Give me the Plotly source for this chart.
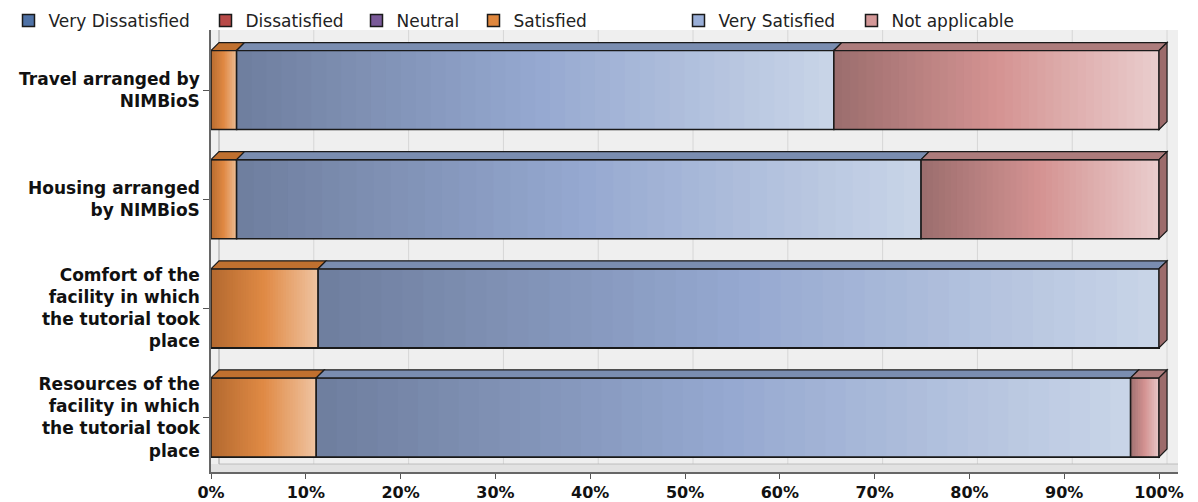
import plotly.graph_objects as go

categories = ["Travel arranged by<br>NIMBioS",
              "Housing arranged<br>by NIMBioS",
              "Comfort of the<br>facility in which<br>the tutorial took<br>place",
              "Resources of the<br>facility in which<br>the tutorial took<br>place"]
series_names = ["Very Dissatisfied", "Dissatisfied", "Neutral", "Satisfied",
                "Very Satisfied", "Not applicable"]
very_dissatisfied = [0, 0, 0, 0]
dissatisfied = [0, 0, 0, 0]
neutral = [0, 0, 0, 0]
satisfied = [2.7, 2.7, 11.3, 11.1]
very_satisfied = [63.0, 72.2, 88.7, 85.9]
not_applicable = [34.3, 25.1, 0.0, 3.0]
x_ticks = [0, 10, 20, 30, 40, 50, 60, 70, 80, 90, 100]
x_tick_labels = [f"{v}%" for v in x_ticks]

values = [very_dissatisfied, dissatisfied, neutral, satisfied, very_satisfied, not_applicable]
legend_colors = ["#4f72a6", "#b84a48", "#7a5a99", "#e0873d", "#9aafd8", "#d49898"]
legend_px = [23, 220, 371, 488, 693, 866]  # left edge of each legend square (pixels)
# gradient stops (left, mid, right) and top face colour per series
grad = {
    3: ("#b3692f", "#e08a45", "#efc4a2", "#c0702f"),
    4: ("#6e7e9e", "#95a8d0", "#c9d5e8", "#7a8db0"),
    5: ("#9b6d6d", "#d49392", "#eacdcd", "#ad7c7c"),
}

W, H = 1198, 502
ML, MR, MT, MB = 211, 20, 30, 30
PW = W - ML - MR
PH = H - MT - MB
BW = 0.724
DX = 0.844
DY = 0.073
YTOP = -0.55
YBOT = 3.5
XMAX = 102
FONT = "DejaVu Sans, Verdana, sans-serif"

def hex2rgb(h):
    h = h.lstrip("#")
    return [int(h[i:i + 2], 16) for i in (0, 2, 4)]

def interp(stops, t):
    a, m, b = [hex2rgb(s) for s in stops]
    if t < 0.5:
        u = t / 0.5
        c = [a[k] + (m[k] - a[k]) * u for k in range(3)]
    else:
        u = (t - 0.5) / 0.5
        c = [m[k] + (b[k] - m[k]) * u for k in range(3)]
    return "rgb(%d,%d,%d)" % tuple(int(round(v)) for v in c)

fig = go.Figure()
ys = list(range(len(categories)))
legends = {}
for idx, (name, vals, col) in enumerate(zip(series_names, values, legend_colors)):
    lname = "legend" if idx == 0 else f"legend{idx + 1}"
    fig.add_trace(go.Bar(
        name=name, x=vals, y=ys, orientation="h", width=BW, legend=lname,
        marker=dict(color=col, line=dict(color="#1a1a1a", width=1.5)),
    ))
    legends[lname] = dict(orientation="h", x=(legend_px[idx] - 14.5 - ML) / PW, xanchor="left",
                          y=1 + (MT - 21) / PH, yanchor="middle",
                          font=dict(size=17, color="#222222", family=FONT),
                          bgcolor="rgba(0,0,0,0)", itemwidth=30)

shapes = []
# back wall grid lines, floor
for v in x_ticks:
    shapes.append(dict(type="line", xref="x", yref="y", x0=v + DX, x1=v + DX,
                       y0=YTOP, y1=YBOT - DY, line=dict(color="#d6d6d6", width=1), layer="below"))
    shapes.append(dict(type="line", xref="x", yref="y", x0=v, x1=v + DX,
                       y0=YBOT, y1=YBOT - DY, line=dict(color="#c8c8c8", width=1), layer="below"))
shapes.append(dict(type="rect", xref="x", yref="y", x0=0, x1=XMAX, y0=YBOT - DY, y1=YBOT,
                   fillcolor="#e2e2e2", line=dict(width=0), layer="below"))
shapes.append(dict(type="line", xref="x", yref="y", x0=DX, x1=XMAX, y0=YBOT - DY, y1=YBOT - DY,
                   line=dict(color="#bdbdbd", width=1), layer="below"))
shapes.append(dict(type="line", xref="x", yref="y", x0=DX, x1=DX, y0=YTOP, y1=YBOT - DY,
                   line=dict(color="#aaaaaa", width=1), layer="below"))

N = 40
for i in ys:
    yt = i - BW / 2
    yb = i + BW / 2
    left = 0.0
    segs = []
    for s, vals in enumerate(values):
        v = vals[i]
        if v <= 0:
            continue
        segs.append((s, left, left + v))
        left += v
    for s, a, b in segs:
        stops = grad[s][:3]
        w = (b - a) / N
        for k in range(N):
            x0 = a + k * w
            x1 = min(b, x0 + w * 1.3)
            shapes.append(dict(type="rect", xref="x", yref="y", x0=x0, x1=x1, y0=yt, y1=yb,
                               fillcolor=interp(stops, (k + 0.5) / N), line=dict(width=0),
                               layer="above"))
        shapes.append(dict(type="rect", xref="x", yref="y", x0=a, x1=b, y0=yt, y1=yb,
                           line=dict(color="#1a1a1a", width=1.5), layer="above"))
        path = f"M {a},{yt} L {a + DX},{yt - DY} L {b + DX},{yt - DY} L {b},{yt} Z"
        shapes.append(dict(type="path", xref="x", yref="y", path=path, fillcolor=grad[s][3],
                           line=dict(color="#1a1a1a", width=1.2), layer="above"))
    s, a, b = segs[-1]
    path = f"M {b},{yt} L {b + DX},{yt - DY} L {b + DX},{yb - DY} L {b},{yb} Z"
    shapes.append(dict(type="path", xref="x", yref="y", path=path, fillcolor="#9c6b6b",
                       line=dict(color="#1a1a1a", width=1.2), layer="above"))

fig.update_layout(
    width=W, height=H,
    margin=dict(l=ML, r=MR, t=MT, b=MB, autoexpand=False),
    barmode="stack",
    paper_bgcolor="white",
    plot_bgcolor="#efefef",
    font=dict(family=FONT, color="#111111"),
    shapes=shapes,
    showlegend=True,
    xaxis=dict(range=[0, XMAX], tickvals=x_ticks, ticktext=[f"<b>{t}</b>" for t in x_tick_labels],
               showgrid=False, zeroline=False, showline=True, linecolor="#666666", linewidth=1.5,
               ticks="outside", ticklen=5, tickcolor="#555555",
               tickfont=dict(size=16, family=FONT, color="#111111"),
               fixedrange=True),
    yaxis=dict(range=[YBOT, YTOP], tickvals=ys, ticktext=[f"<b>{c}</b>" for c in categories],
               showgrid=False, zeroline=False, showline=True, linecolor="#666666", linewidth=1.5,
               ticks="outside", ticklen=6, tickcolor="#555555",
               tickfont=dict(size=17, family=FONT, color="#111111"), fixedrange=True),
    **legends,
)
fig.write_html("out.html")
